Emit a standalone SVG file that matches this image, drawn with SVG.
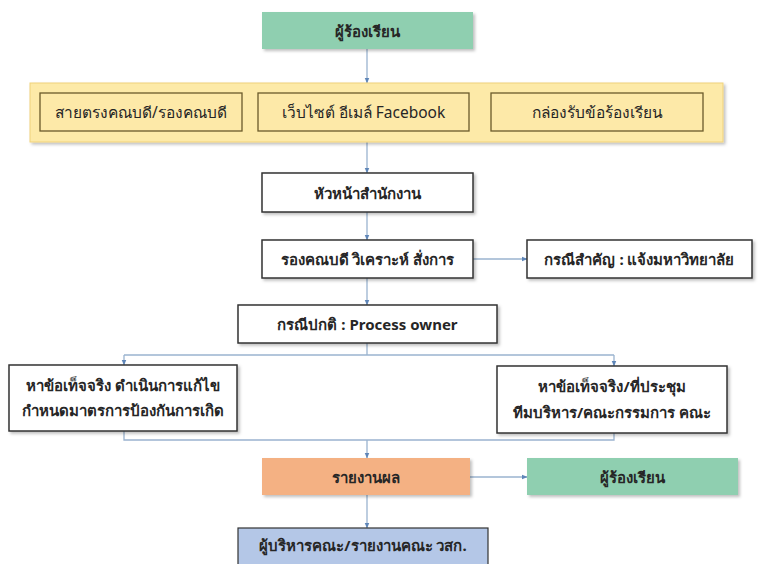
<svg xmlns="http://www.w3.org/2000/svg" width="758" height="564" viewBox="0 0 758 564">
  <defs>
    <filter id="shadow" x="-10%" y="-20%" width="130%" height="160%">
      <feDropShadow dx="2" dy="2" stdDeviation="1.5" flood-color="#000" flood-opacity="0.25"/>
    </filter>
    <marker id="arrow" viewBox="0 0 10 10" refX="9" refY="5" markerWidth="6" markerHeight="6" orient="auto" markerUnits="userSpaceOnUse">
      <path d="M0,1 L10,5 L0,9 z" fill="#5f86b8"/>
    </marker>
  </defs>
  <style>
    text { font-family: "Noto Sans", "DejaVu Sans", "Liberation Sans", sans-serif; font-size: 15.5px; fill: #262626; text-anchor: middle; dominant-baseline: central; }
    .b { font-weight: bold; font-size: 15px; }
    .plain { fill: #fff; stroke: #333; stroke-width: 1.5; filter: url(#shadow); }
    .green { fill: #8fcfb0; stroke: none; filter: url(#shadow); }
    .orange { fill: #f4b183; stroke: none; filter: url(#shadow); }
    .blue { fill: #b4c7e7; stroke: #333; stroke-width: 1.2; }
    .band { fill: #fdeaa8; stroke: #f0d27a; stroke-width: 1; filter: url(#shadow); }
    .chan { fill: #fde9a8; stroke: #6b5a2a; stroke-width: 1.3; }
    .conn { fill: none; stroke: #9ab3cf; stroke-width: 1.3; }
  </style>

  <!-- connectors -->
  <g id="connectors">
    <line class="conn" x1="367" y1="49" x2="367" y2="83" marker-end="url(#arrow)"/>
    <line class="conn" x1="367" y1="142" x2="367" y2="173" marker-end="url(#arrow)"/>
    <line class="conn" x1="367" y1="212" x2="367" y2="240" marker-end="url(#arrow)"/>
    <line class="conn" x1="473" y1="259" x2="527" y2="259" marker-end="url(#arrow)"/>
    <line class="conn" x1="367" y1="278" x2="367" y2="305" marker-end="url(#arrow)"/>
    <polyline class="conn" points="367,343 367,355"/>
    <polyline class="conn" points="124,355 614,355"/>
    <line class="conn" x1="124" y1="355" x2="124" y2="365" marker-end="url(#arrow)"/>
    <line class="conn" x1="614" y1="355" x2="614" y2="366" marker-end="url(#arrow)"/>
    <polyline class="conn" points="124,431 124,440 614,440 614,433"/>
    <line class="conn" x1="367" y1="440" x2="367" y2="458" marker-end="url(#arrow)"/>
    <line class="conn" x1="470" y1="477" x2="527" y2="477" marker-end="url(#arrow)"/>
    <line class="conn" x1="367" y1="495" x2="367" y2="528" marker-end="url(#arrow)"/>
  </g>

  <g id="complainant">
    <rect class="green" x="262" y="12" width="211" height="37"/>
    <text class="b" x="367.5" y="30.5">ผู้ร้องเรียน</text>
  </g>

  <g id="channels">
    <rect class="band" x="30" y="83" width="693" height="59"/>
    <g id="channel-dean">
      <rect class="chan" x="40" y="93" width="202" height="38"/>
      <text x="141" y="112">สายตรงคณบดี/รองคณบดี</text>
    </g>
    <g id="channel-online">
      <rect class="chan" x="258" y="93" width="211" height="38"/>
      <text x="363.5" y="112">เว็บไซต์ อีเมล์ Facebook</text>
    </g>
    <g id="channel-box">
      <rect class="chan" x="491" y="93" width="212" height="38"/>
      <text x="597" y="112">กล่องรับข้อร้องเรียน</text>
    </g>
  </g>

  <g id="office-head">
    <rect class="plain" x="262" y="173" width="211" height="39"/>
    <text class="b" x="367.5" y="192.5">หัวหน้าสำนักงาน</text>
  </g>

  <g id="vice-dean">
    <rect class="plain" x="262" y="240" width="211" height="38"/>
    <text class="b" x="367.5" y="259">รองคณบดี วิเคราะห์ สั่งการ</text>
  </g>

  <g id="important-case">
    <rect class="plain" x="527" y="240" width="225" height="38"/>
    <text class="b" x="639.5" y="259">กรณีสำคัญ : แจ้งมหาวิทยาลัย</text>
  </g>

  <g id="normal-case">
    <rect class="plain" x="238" y="305" width="259" height="38"/>
    <text class="b" x="367.5" y="324">กรณีปกติ : Process owner</text>
  </g>

  <g id="fix-action">
    <rect class="plain" x="9" y="365" width="228" height="66"/>
    <text class="b" x="123" y="385">หาข้อเท็จจริง ดำเนินการแก้ไข</text>
    <text class="b" x="123" y="410">กำหนดมาตรการป้องกันการเกิด</text>
  </g>

  <g id="committee">
    <rect class="plain" x="497" y="366" width="230" height="67"/>
    <text class="b" x="612" y="386">หาข้อเท็จจริง/ที่ประชุม</text>
    <text class="b" x="612" y="412">ทีมบริหาร/คณะกรรมการ คณะ</text>
  </g>

  <g id="report">
    <rect class="orange" x="262" y="458" width="208" height="37"/>
    <text class="b" x="366" y="476.5">รายงานผล</text>
  </g>

  <g id="complainant-reply">
    <rect class="green" x="527" y="458" width="211" height="37"/>
    <text class="b" x="632.5" y="476.5">ผู้ร้องเรียน</text>
  </g>

  <g id="executives">
    <rect class="blue" x="238" y="528" width="250" height="44"/>
    <text class="b" x="363" y="545">ผู้บริหารคณะ/รายงานคณะ วสก.</text>
  </g>
</svg>
